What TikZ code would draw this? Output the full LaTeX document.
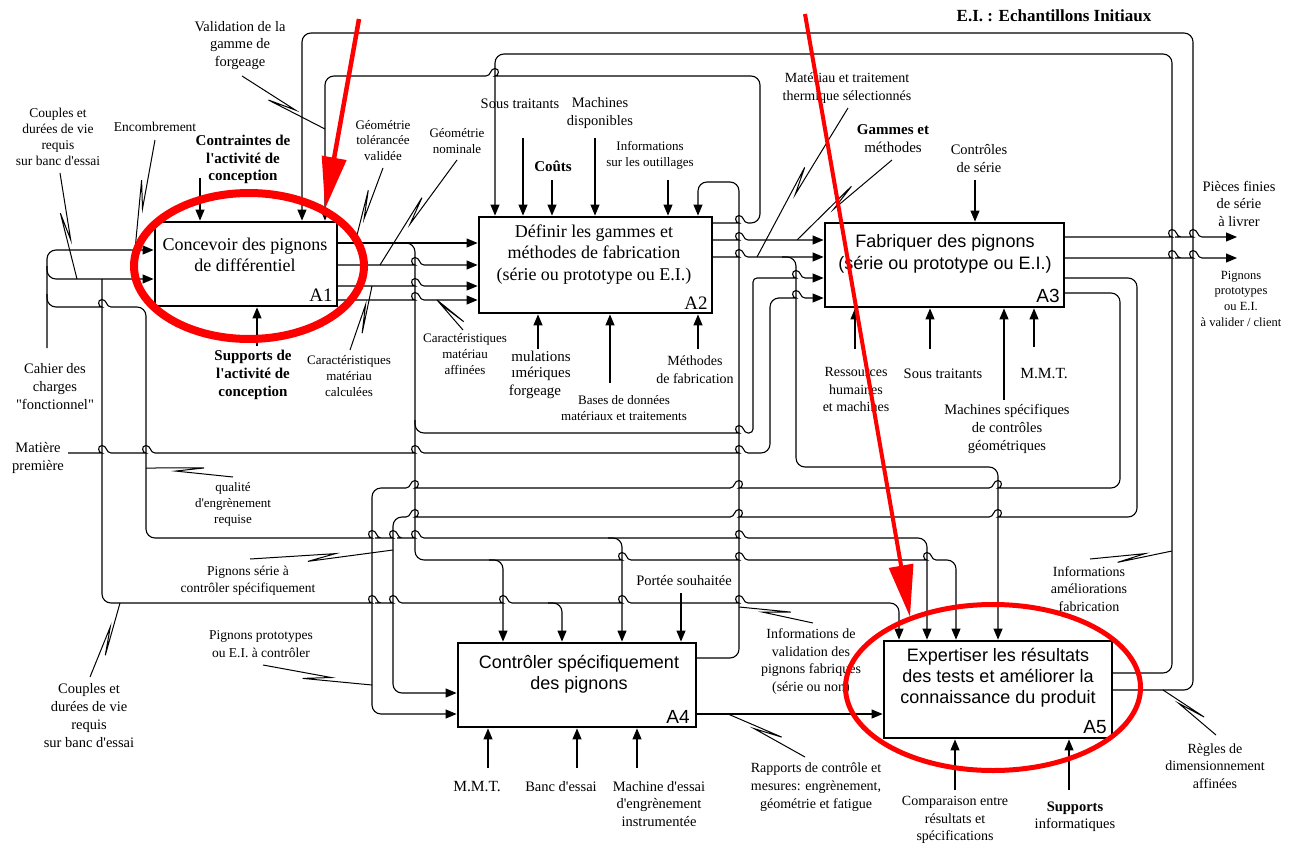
\documentclass[tikz,border=0pt]{standalone}
\usepackage{fontspec}
\newfontfamily\serif{Liberation Serif}
\newfontfamily\arialf{Liberation Sans}
\AtBeginDocument{\serif}
\usetikzlibrary{arrows.meta}
\newcommand\fs[2]{\fontsize{#1}{#2}\selectfont}
\newcommand\hopr[2]{-- ({#1-9},#2) [sharp corners] .. controls ({#1-4},#2) and ({#1-5},{#2-7.5}) .. (#1,{#2-7.5}) .. controls ({#1+5},{#2-7.5}) and ({#1+4},#2) .. ({#1+9},#2) [rounded corners=9pt]}
\newcommand\hopl[2]{-- ({#1+9},#2) [sharp corners] .. controls ({#1+4},#2) and ({#1+5},{#2-7.5}) .. (#1,{#2-7.5}) .. controls ({#1-5},{#2-7.5}) and ({#1-4},#2) .. ({#1-9},#2) [rounded corners=9pt]}
\newcommand\sq[4]{%
  \pgfmathsetmacro\sqdx{#3-#1}\pgfmathsetmacro\sqdy{#4-#2}%
  \pgfmathsetmacro\sqL{veclen(\sqdx,\sqdy)}%
  \pgfmathsetmacro\squx{\sqdx/\sqL}\pgfmathsetmacro\squy{\sqdy/\sqL}%
  \pgfmathsetmacro\sqmx{(#1+#3)/2}\pgfmathsetmacro\sqmy{(#2+#4)/2}%
  \draw[sqs] (#1,#2) -- ({\sqmx+14*\squx},{\sqmy+14*\squy}) -- ({\sqmx-14*\squx-6*\squy},{\sqmy-14*\squy+6*\squx}) -- (#3,#4);}
\begin{document}
\begin{tikzpicture}[x=1pt,y=-1pt,
  ln/.style={line width=1.1pt, rounded corners=9pt},
  arr/.style={ln, -{Triangle[length=11pt,width=9pt]}},
  box/.style={draw, line width=2.8pt, inner sep=0pt, outer sep=0pt, fill=white},
  lab/.style={align=center, inner sep=0pt},
  sqs/.style={line width=1pt, line join=miter}]
\fill[white] (0,0) rectangle (1297,845);
\useasboundingbox (0,0) rectangle (1297,845);

% ---------- connectors ----------
% top feedback loops
\draw[arr] (1112,690) -- (1193,690) -- (1193,33) -- (302,33) -- (302,220.6);
\draw[arr] (1112,673) -- (1172,673) -- (1172,54) -- (495,54) -- (495,215.6);
\draw[arr] (712,223) \hopr{739}{223} -- (760,223) -- (760,76) \hopl{495}{76} -- (325,76) -- (325,220.6);
\draw[arr] (696,658) -- (739,658) -- (739,182) -- (698,182) -- (698,215.6);

% simple controls / mechanisms
\foreach \x/\y in {523/138, 552/180, 595/138, 668/180} \draw[arr] (\x,\y) -- (\x,215.6);
\draw[arr] (200,178) -- (200,220.6);
\draw[arr] (257,346) -- (257,307.4);
\foreach \x/\y in {538/349, 610/383, 698/349} \draw[arr] (\x,\y) -- (\x,314.4);
\draw[arr] (975,180) -- (975,221.6);
\foreach \x/\y in {855/349, 930/349, 1004/400, 1034/347} \draw[arr] (\x,\y) -- (\x,308.4);
\draw[arr] (681,593) -- (681,641.6);
\foreach \x in {488, 577, 637} \draw[arr] (\x,768) -- (\x,728.4);
\foreach \x in {955, 1069} \draw[arr] (\x,790) -- (\x,739.4);

% cahier des charges
\draw[arr] (47,348) -- (47,250) -- (153.6,250);
\draw[arr] (47,266) -- (47,279) -- (153.6,279);
\draw[arr] (47,294) -- (47,307) \hopr{102}{307} -- (146,307) -- (146,538) \hopr{372}{538} \hopr{393}{538} \hopr{415}{538} \hopr{739}{538} -- (927,538) -- (927,639.6);
\draw[arr] (608,538) -- (622,538) -- (622,641.6);
% couples et durees de vie
\draw[arr] (102,279) -- (102,603) \hopr{372}{603} \hopr{393}{603} \hopr{503}{603} \hopr{622}{603} \hopr{739}{603} -- (899,603) -- (899,639.6);
\draw[arr] (548,603) -- (562,603) -- (562,641.6);
% matiere premiere
\draw[arr] (68,453) \hopr{102}{453} \hopr{146}{453} \hopr{415}{453} \hopr{739}{453} -- (770,453) -- (770,298) \hopr{796}{298} -- (823.6,298);

% A1 -> A2
\draw[arr] (337,243) -- (477.6,243);
\draw[arr] (337,265) \hopr{415}{265} -- (477.6,265);
\draw[arr] (337,286) \hopr{415}{286} -- (477.6,286);
\draw[arr] (337,300) \hopr{415}{300} -- (477.6,300);
\draw[arr] (401,243) -- (415,243) -- (415,560) \hopr{622}{560} \hopr{739}{560} \hopr{927}{560} -- (956,560) -- (956,639.6);
\draw[arr] (489,560) -- (503,560) -- (503,641.6);
\draw[arr] (415,420) -- (415,433) \hopr{739}{433} [rounded corners=4pt] -- (753,433) -- (753,278) [rounded corners=9pt] \hopr{796}{278} -- (823.6,278);

% A2 -> A3
\draw[arr] (712,240) \hopr{739}{240} -- (823.6,240);
\draw[arr] (712,257) \hopr{739}{257} -- (823.6,257);
\draw[arr] (782,257) -- (796,257) -- (796,467) -- (998,467) -- (998,639.6);

% A3 outputs
\draw[arr] (1064,237) \hopr{1172}{237} \hopr{1193}{237} -- (1237,237);
\draw[arr] (1064,258) \hopr{1172}{258} \hopr{1193}{258} -- (1237,258);
\draw[arr] (1064,278) -- (1137,278) -- (1137,517) \hopl{998}{517} \hopl{739}{517} \hopl{415}{517} -- (393,517) -- (393,693) -- (456.6,693);
\draw[arr] (1064,293) -- (1120,293) -- (1120,488) \hopl{998}{488} \hopl{739}{488} \hopl{415}{488} -- (372,488) -- (372,714) -- (456.6,714);

% A4 -> A5
\draw[arr] (696,714) -- (882.6,714);

% ---------- boxes ----------
\node[box, minimum width=182pt, minimum height=84pt] (A1) at (246,264) {};
\node[box, minimum width=233pt, minimum height=96pt] (A2) at (595.5,265) {};
\node[box, minimum width=239pt, minimum height=84pt] (A3) at (944.5,265) {};
\node[box, minimum width=238pt, minimum height=84pt] (A4) at (577,685) {};
\node[box, minimum width=228pt, minimum height=97pt] (A5) at (998,689.5) {};

\node[lab, font=\fs{18}{21}] (t1) at (245,254.5) {Concevoir des pignons\\de différentiel};
\node[lab, font=\fs{19}{21}] (n1) at (321,295) {A1};
\node[lab, font=\fs{18}{21.5}] (t2) at (594,254.5) {Définir les gammes et\\méthodes de fabrication\\(série ou prototype ou E.I.)};
\node[lab, font=\fs{19}{21}] (n2) at (696,303) {A2};
\node[lab, font=\arialf\fs{18}{22}] (t3) at (945,254) {Fabriquer des pignons\\(série ou prototype ou E.I.)};
\node[lab, font=\arialf\fs{19}{21}] (n3) at (1048,296) {A3};
\node[lab, font=\arialf\fs{18}{21}] (t4) at (579,674.5) {Contrôler spécifiquement\\des pignons};
\node[lab, font=\arialf\fs{19}{21}] (n4) at (678,717) {A4};
\node[lab, font=\arialf\fs{18}{21}] (t5) at (998,678) {Expertiser les résultats\\des tests et améliorer la\\connaissance du produit};
\node[lab, font=\arialf\fs{19}{21}] (n5) at (1095,727) {A5};

% ---------- labels ----------
\node[lab, font=\fs{14.5}{17.5}] (l1) at (240,45.5) {Validation de la\\gamme de\\forgeage};
\node[lab, font=\fs{13.5}{16}] (l2) at (58,137) {Couples et\\durées de vie\\requis\\sur banc d'essai};
\node[lab, font=\fs{13.5}{16}] (l3) at (155,127) {Encombrement};
\node[lab, font=\bfseries\fs{15}{17.5}] (l4) at (243,159.5) {Contraintes de\\l'activité de\\conception};
\node[lab, font=\fs{13}{15.5}] (l5) at (383,140.5) {Géométrie\\tolérancée\\validée};
\node[lab, font=\fs{13}{16}] (l6) at (457,141) {Géométrie\\nominale};
\node[lab, font=\fs{14.5}{18}] (l7) at (520,104) {Sous traitants};
\node[lab, font=\fs{14.5}{18}] (l8) at (600,113) {Machines\\disponibles};
\node[lab, font=\bfseries\fs{15}{18}] (l9) at (553,166) {Coûts};
\node[lab, font=\fs{13}{16}] (l10) at (650,155) {Informations\\sur les outillages};
\node[lab, font=\fs{14}{18}] (l11) at (847,88) {Matériau et traitement\\thermique sélectionnés};
\node[lab, font=\fs{15}{18}] (l12) at (893,139) {\textbf{Gammes et}\\méthodes};
\node[lab, font=\fs{14.5}{18}] (l13) at (979,159) {Contrôles\\de série};
\node[lab, font=\bfseries\fs{17}{20}] (l14) at (1054,16) {E.I. : Echantillons Initiaux};
\node[lab, font=\fs{14.5}{17.5}] (l15) at (1239,203.5) {Pièces finies\\de série\\à livrer};
\node[lab, font=\fs{12.5}{15.7}] (l16) at (1241,298.5) {Pignons\\prototypes\\ou E.I.\\à valider / client};
\node[lab, font=\fs{14.5}{18}] (l17) at (55,387) {Cahier des\\charges\\"fonctionnel"};
\node[lab, font=\fs{14.5}{18}] (l18) at (38,458) {Matière\\première};
\node[lab, font=\fs{13}{16}] (l19) at (233,504) {qualité\\d'engrènement\\requise};
\node[lab, font=\fs{13.5}{17}] (l20) at (248,580.5) {Pignons série à\\contrôler spécifiquement};
\node[lab, font=\fs{13.5}{18}] (l21) at (261,644) {Pignons prototypes\\ou E.I. à contrôler};
\node[lab, font=\fs{14.5}{18}] (l22) at (89,716) {Couples et\\durées de vie\\requis\\sur banc d'essai};
\node[lab, font=\fs{13}{16}] (l23) at (465,354.5) {Caractéristiques\\matériau\\affinées};
\node[lab, font=\fs{13}{16}] (l24) at (349,376) {Caractéristiques\\matériau\\calculées};
\node[lab, font=\bfseries\fs{15}{18}] (l25) at (253,374.5) {Supports de\\l'activité de\\conception};
\node[lab, font=\fs{15}{18}] (l26a) at (541,356) {mulations};
\node[lab, font=\fs{15}{18}] (l26b) at (541,374) {ımériques};
\node[lab, font=\fs{15}{18}] (l26c) at (535,392) {forgeage};
\node[lab, font=\fs{13}{16}] (l27) at (624,408) {Bases de données\\matériaux et traitements};
\node[lab, font=\fs{14}{18}] (l28) at (695,370) {Méthodes\\de fabrication};
\node[lab, font=\fs{14}{17.5}] (l29) at (856,389.5) {Ressources\\humaines\\et machines};
\node[lab, font=\fs{14.5}{18}] (l30) at (943,374) {Sous traitants};
\node[lab, font=\fs{15.5}{18}] (l31) at (1044,374) {M.M.T.};
\node[lab, font=\fs{14.5}{18}] (l32) at (1007,429) {Machines spécifiques\\de contrôles\\géométriques};
\node[lab, font=\fs{14.5}{18}] (l33) at (684,581) {Portée souhaitée};
\node[lab, font=\fs{14}{17.7}] (l34) at (811,661.5) {Informations de\\validation des\\pignons fabriqués\\(série ou non)};
\node[lab, font=\fs{15.5}{18}] (l35) at (477,787) {M.M.T.};
\node[lab, font=\fs{14.5}{18}] (l36) at (561,787) {Banc d'essai};
\node[lab, font=\fs{14.5}{17.7}] (l37) at (659,804) {Machine d'essai\\d'engrènement\\instrumentée};
\node[lab, font=\fs{14}{17.7}] (l38) at (816,787) {Rapports de contrôle et\\mesures: engrènement,\\géométrie et fatigue};
\node[lab, font=\fs{14}{17.7}] (l39) at (955,820) {Comparaison entre\\résultats et\\spécifications};
\node[lab, font=\fs{14.5}{17.5}] (l40) at (1075,816.5) {\textbf{Supports}\\informatiques};
\node[lab, font=\fs{14}{17.7}] (l41) at (1215,766) {Règles de\\dimensionnement\\affinées};
\node[lab, font=\fs{14}{17.5}] (l42) at (1089,589) {Informations\\améliorations\\fabrication};

% ---------- squiggles ----------
\sq{242}{76}{325}{129}
\sq{60}{173}{77}{279}
\sq{155}{140}{135}{250}
\sq{383}{168}{355}{243}
\sq{457}{160}{380}{265}
\sq{350}{350}{372}{286}
\sq{463}{330}{437}{300}
\sq{848}{108}{757}{257}
\sq{892}{160}{797}{240}
\sq{233}{477}{146}{468}
\sq{250}{559}{393}{550}
\sq{263}{665}{372}{685}
\sq{90}{677}{120}{603}
\sq{813}{623}{739}{607}
\sq{805}{757}{728}{714}
\sq{1216}{735}{1163}{690}
\sq{1090}{559}{1172}{551}

% ---------- red annotations ----------
\draw[red, line width=8pt] (249,266) ellipse [x radius=115, y radius=73];
\draw[red, line width=5pt] (993,687.5) ellipse [x radius=147.5, y radius=83];
\draw[red, line width=4.5pt, -{Triangle[length=52pt,width=24pt]}] (359,19) -- (325,209);
\draw[red, line width=4pt, -{Triangle[length=52pt,width=24pt]}] (805,14) -- (910,617);
\end{tikzpicture}
\end{document}
